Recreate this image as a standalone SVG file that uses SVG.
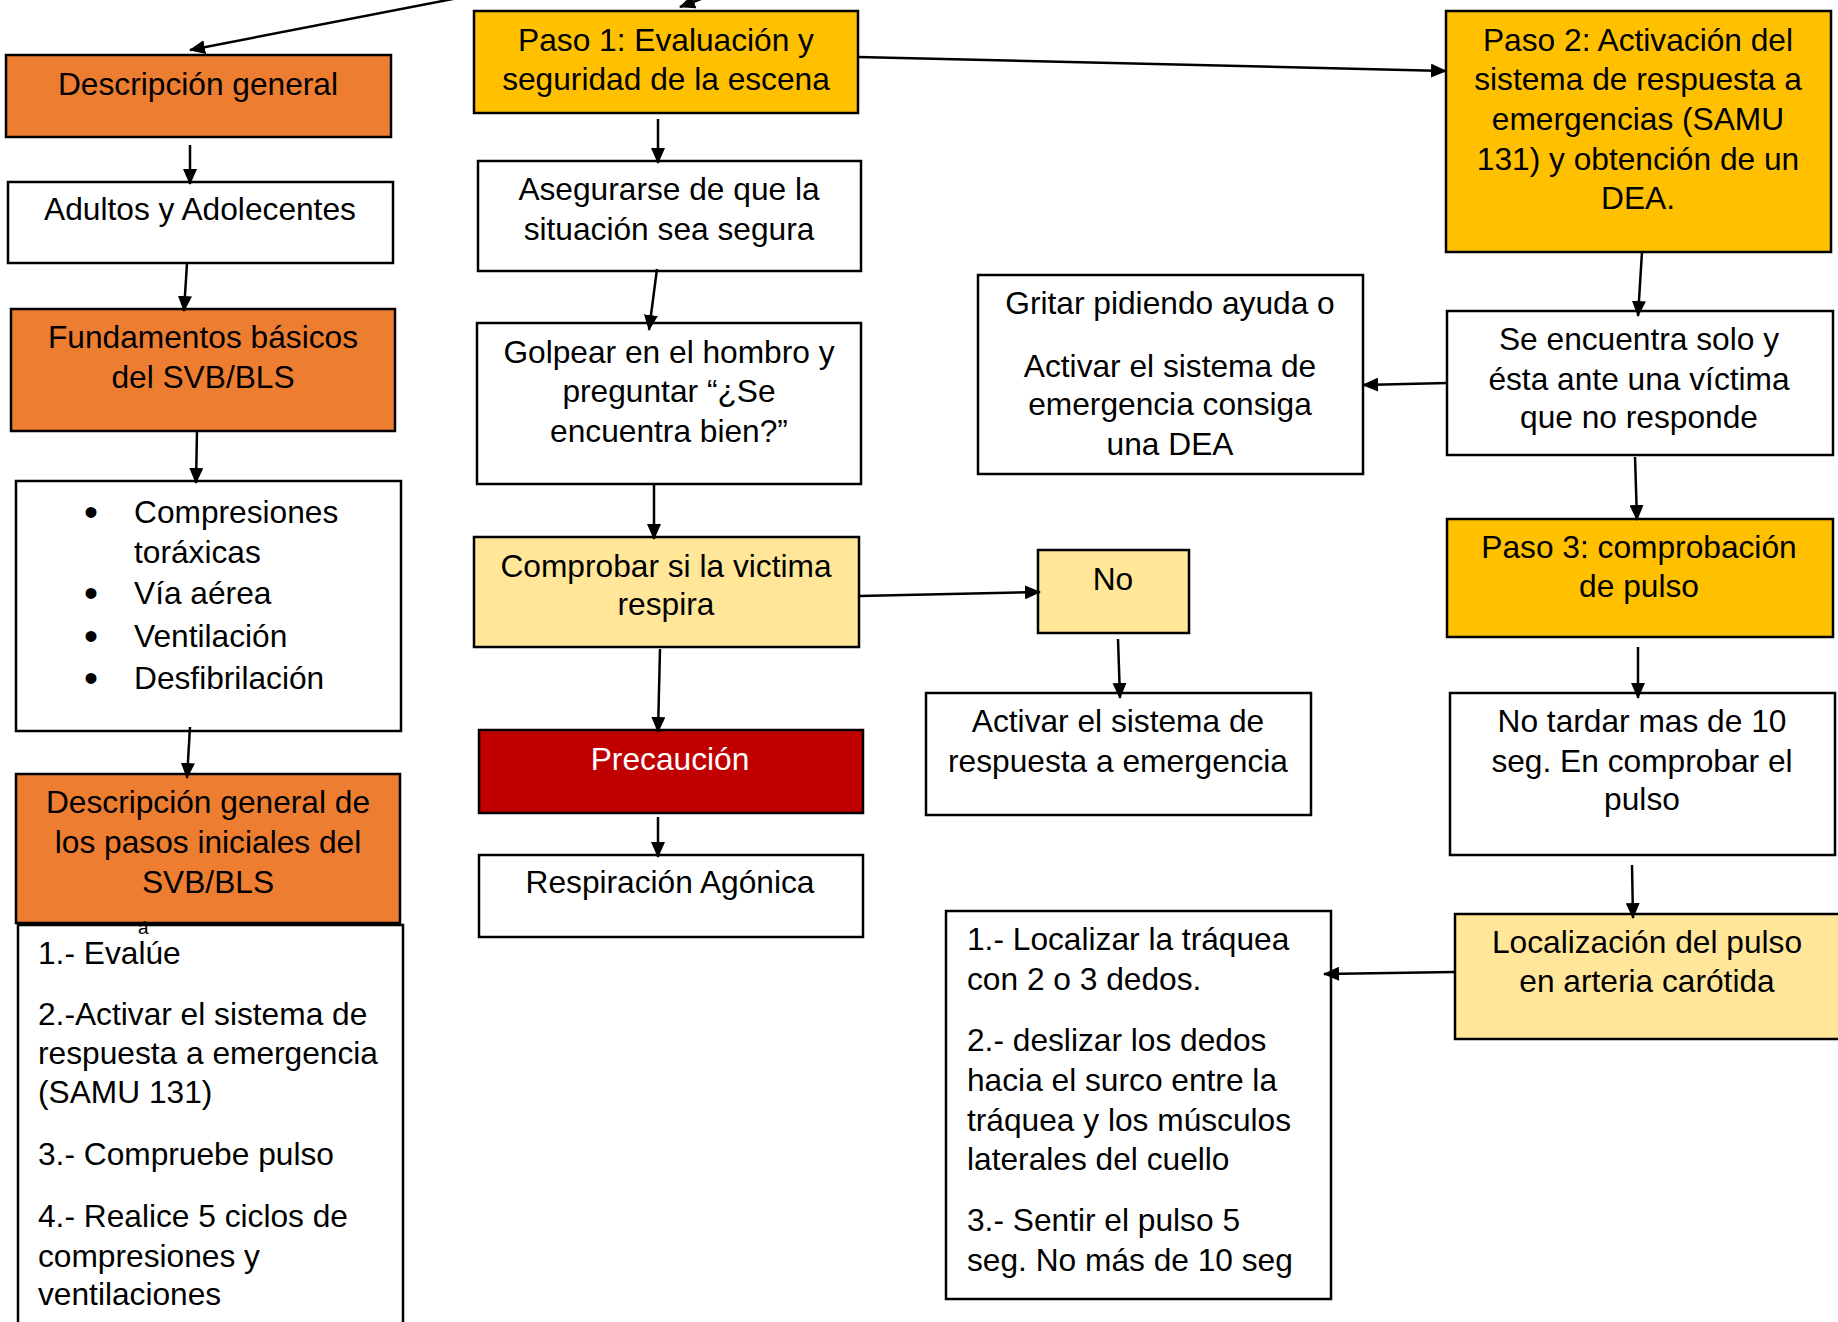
<svg xmlns="http://www.w3.org/2000/svg" width="1838" height="1322" viewBox="0 0 1838 1322">
<defs>
<marker id="ah" markerUnits="userSpaceOnUse" markerWidth="16" markerHeight="14" refX="15" refY="7" orient="auto">
<path d="M0,0 L16,7 L0,14 Z" fill="#000"/>
</marker>
<style>
.box{stroke:#000;stroke-width:2.5}
.w{fill:#fff}
.or{fill:#ED7D31}
.gd{fill:#FFC000}
.ly{fill:#FFE699}
.rd{fill:#C00000}
text{font-family:"Liberation Sans",Arial,sans-serif;font-size:31.7px;fill:#000}
.c{text-anchor:middle}
.wt{fill:#fff}
.bl{font-size:40px}
.cn line{stroke:#000;stroke-width:2.5;marker-end:url(#ah)}
</style>
</defs>
<rect width="1838" height="1322" fill="#fff"/>

<g id="desc_general"><rect class="box or" x="6" y="55" width="385" height="82"/><text class="c" x="198" y="95">Descripción general</text></g>
<g id="paso1"><rect class="box gd" x="474" y="11" width="384" height="102"/><text class="c" x="666" y="51">Paso 1: Evaluación y</text><text class="c" x="666" y="90">seguridad de la escena</text></g>
<g id="adultos"><rect class="box w" x="8" y="182" width="385" height="81"/><text class="c" x="200" y="220">Adultos y Adolecentes</text></g>
<g id="asegurarse"><rect class="box w" x="478" y="161" width="383" height="110"/><text class="c" x="669" y="200">Asegurarse de que la</text><text class="c" x="669" y="240">situación sea segura</text></g>
<g id="fundamentos"><rect class="box or" x="11" y="309" width="384" height="122"/><text class="c" x="203" y="348">Fundamentos básicos</text><text class="c" x="203" y="388">del SVB/BLS</text></g>
<g id="golpear"><rect class="box w" x="477" y="323" width="384" height="161"/><text class="c" x="669" y="363">Golpear en el hombro y</text><text class="c" x="669" y="402">preguntar “¿Se</text><text class="c" x="669" y="442">encuentra bien?”</text></g>
<g id="fundamentos_lista"><rect class="box w" x="16" y="481" width="385" height="250"/>
<text class="bl" x="84" y="526">•</text><text x="134" y="523">Compresiones</text><text x="134" y="563">toráxicas</text>
<text class="bl" x="84" y="607">•</text><text x="134" y="604">Vía aérea</text>
<text class="bl" x="84" y="650">•</text><text x="134" y="647">Ventilación</text>
<text class="bl" x="84" y="692">•</text><text x="134" y="689">Desfibrilación</text></g>
<g id="comprobar"><rect class="box ly" x="474" y="537" width="385" height="110"/><text class="c" x="666" y="577">Comprobar si la victima</text><text class="c" x="666" y="615">respira</text></g>
<g id="precaucion"><rect class="box rd" x="479" y="730" width="384" height="83"/><text class="c wt" x="670" y="770">Precaución</text></g>
<g id="respiracion"><rect class="box w" x="479" y="855" width="384" height="82"/><text class="c" x="670" y="893">Respiración Agónica</text></g>
<g id="desc_pasos"><rect class="box or" x="16" y="774" width="384" height="149"/><text class="c" x="208" y="813">Descripción general de</text><text class="c" x="208" y="853">los pasos iniciales del</text><text class="c" x="208" y="893">SVB/BLS</text></g>
<g id="pasos_lista"><rect class="box w" x="18" y="925" width="385" height="410"/>
<text x="138" y="934" style="font-size:19px">á</text>
<text x="38" y="964">1.- Evalúe</text>
<text x="38" y="1025">2.-Activar el sistema de</text><text x="38" y="1064">respuesta a emergencia</text><text x="38" y="1103">(SAMU 131)</text>
<text x="38" y="1165">3.- Compruebe pulso</text>
<text x="38" y="1227">4.- Realice 5 ciclos de</text><text x="38" y="1267">compresiones y</text><text x="38" y="1305">ventilaciones</text></g>
<g id="paso2"><rect class="box gd" x="1446" y="11" width="385" height="241"/><text class="c" x="1638" y="51">Paso 2: Activación del</text><text class="c" x="1638" y="90">sistema de respuesta a</text><text class="c" x="1638" y="130">emergencias (SAMU</text><text class="c" x="1638" y="170">131) y obtención de un</text><text class="c" x="1638" y="209">DEA.</text></g>
<g id="gritar"><rect class="box w" x="978" y="275" width="385" height="199"/><text class="c" x="1170" y="314">Gritar pidiendo ayuda o</text><text class="c" x="1170" y="377">Activar el sistema de</text><text class="c" x="1170" y="415">emergencia consiga</text><text class="c" x="1170" y="455">una DEA</text></g>
<g id="se_encuentra"><rect class="box w" x="1447" y="311" width="386" height="144"/><text class="c" x="1639" y="350">Se encuentra solo y</text><text class="c" x="1639" y="390">ésta ante una víctima</text><text class="c" x="1639" y="428">que no responde</text></g>
<g id="no"><rect class="box ly" x="1038" y="550" width="151" height="83"/><text class="c" x="1113" y="590">No</text></g>
<g id="paso3"><rect class="box gd" x="1447" y="519" width="386" height="118"/><text class="c" x="1639" y="558">Paso 3: comprobación</text><text class="c" x="1639" y="597">de pulso</text></g>
<g id="activar"><rect class="box w" x="926" y="693" width="385" height="122"/><text class="c" x="1118" y="732">Activar el sistema de</text><text class="c" x="1118" y="772">respuesta a emergencia</text></g>
<g id="no_tardar"><rect class="box w" x="1450" y="693" width="385" height="162"/><text class="c" x="1642" y="732">No tardar mas de 10</text><text class="c" x="1642" y="772">seg. En comprobar el</text><text class="c" x="1642" y="810">pulso</text></g>
<g id="localizacion"><rect class="box ly" x="1455" y="914" width="390" height="125"/><text class="c" x="1647" y="953">Localización del pulso</text><text class="c" x="1647" y="992">en arteria carótida</text></g>
<g id="localizar_lista"><rect class="box w" x="946" y="911" width="385" height="388"/>
<text x="967" y="950">1.- Localizar la tráquea</text><text x="967" y="990">con 2 o 3 dedos.</text>
<text x="967" y="1051">2.- deslizar los dedos</text><text x="967" y="1091">hacia el surco entre la</text><text x="967" y="1131">tráquea y los músculos</text><text x="967" y="1170">laterales del cuello</text>
<text x="967" y="1231">3.- Sentir el pulso 5</text><text x="967" y="1271">seg. No más de 10 seg</text></g>

<g id="connectors" class="cn">
<line x1="458" y1="-2" x2="190" y2="50"/>
<line x1="722" y1="-9" x2="680" y2="7"/>
<line x1="858" y1="57" x2="1446" y2="71"/>
<line x1="190" y1="145" x2="190" y2="184"/>
<line x1="187" y1="263" x2="184" y2="311"/>
<line x1="197" y1="431" x2="196" y2="483"/>
<line x1="190" y1="727" x2="187" y2="778"/>
<line x1="658" y1="119" x2="658" y2="163"/>
<line x1="657" y1="269" x2="649" y2="330"/>
<line x1="654" y1="484" x2="654" y2="539"/>
<line x1="660" y1="649" x2="658" y2="732"/>
<line x1="658" y1="817" x2="658" y2="857"/>
<line x1="859" y1="596" x2="1040" y2="592"/>
<line x1="1118" y1="639" x2="1120" y2="698"/>
<line x1="1642" y1="252" x2="1638" y2="316"/>
<line x1="1447" y1="383" x2="1363" y2="385"/>
<line x1="1635" y1="457" x2="1637" y2="520"/>
<line x1="1638" y1="647" x2="1638" y2="698"/>
<line x1="1632" y1="865" x2="1633" y2="918"/>
<line x1="1455" y1="972" x2="1324" y2="974"/>
</g>
</svg>
